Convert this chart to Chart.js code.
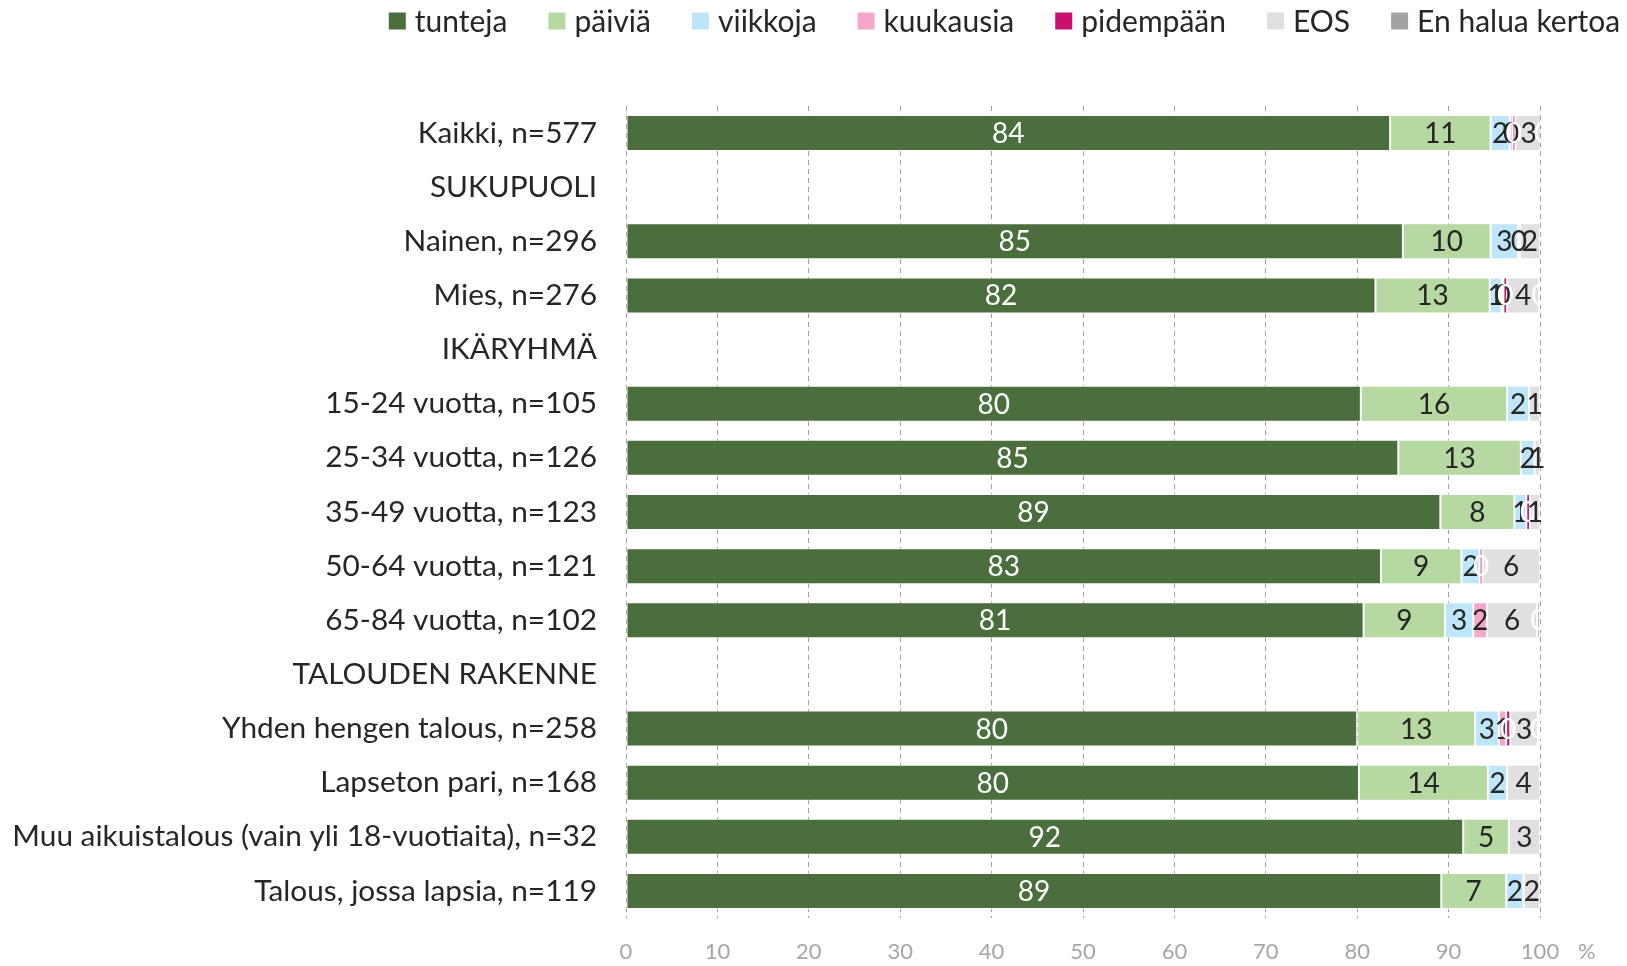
<!DOCTYPE html>
<html>
<head>
<meta charset="utf-8">
<script src="https://cdn.jsdelivr.net/npm/chart.js@4"></script>
<style>
html,body{margin:0;padding:0;background:#fff;}
#wrap{width:1627px;height:966px;position:relative;}
</style>
</head>
<body>
<div id="wrap"><canvas id="c" width="1627" height="966"></canvas></div>
<script>
const categories = [
  "Kaikki, n=577",
  "SUKUPUOLI",
  "Nainen, n=296",
  "Mies, n=276",
  "IKÄRYHMÄ",
  "15-24 vuotta, n=105",
  "25-34 vuotta, n=126",
  "35-49 vuotta, n=123",
  "50-64 vuotta, n=121",
  "65-84 vuotta, n=102",
  "TALOUDEN RAKENNE",
  "Yhden hengen talous, n=258",
  "Lapseton pari, n=168",
  "Muu aikuistalous (vain yli 18-vuotiaita), n=32",
  "Talous, jossa lapsia, n=119"
];
const seriesNames = ["tunteja","päiviä","viikkoja","kuukausia","pidempään","EOS","En halua kertoa"];
const tunteja   = [83.6, null, 85.0, 82.0, null, 80.4, 84.5, 89.1, 82.6, 80.7, null, 80.0, 80.2, 91.6, 89.2];
const paivia    = [11.0, null,  9.6, 12.5, null, 16.0, 13.4,  8.1,  8.8,  8.9, null, 12.9, 14.1,  5.0,  7.1];
const viikkoja  = [ 2.1, null,  3.0,  1.3, null,  2.4,  1.5,  1.3,  2.0,  3.1, null,  2.6,  2.1, null,  1.9];
const kuukausia = [ 0.3, null,  0.2,  0.2, null, null, null, null, null,  1.5, null,  0.8, null, null, null];
const pidempaan = [ 0.3, null, null,  0.4, null, null, null,  0.4,  0.3, null, null, 0.45, null, null, null];
const eos       = [ 2.9, null,  2.2,  3.5, null,  1.2,  0.6,  1.1,  6.3,  5.5, null,  3.0,  3.6,  3.4,  1.8];
const enHalua   = [ 0.1, null, null,  0.1, null, null, null, null, null,  0.3, null,  0.2, null, null, null];
const xTicks = [0,10,20,30,40,50,60,70,80,90,100];
const unitLabel = "%";

const colors = ["#4a6f3d","#b5d9a1","#bde6fa","#f4a7c9","#c8106e","#e0e0e0","#a3a3a3"];
const labelColors = ["#ffffff","#262626","#262626","#262626","#ffffff","#262626","#ffffff"];
const allData = [tunteja, paivia, viikkoja, kuukausia, pidempaan, eos, enHalua];

const FONT = "Lato, 'Open Sans', sans-serif";

const dataLabelPlugin = {
  id: 'segLabels',
  afterDatasetsDraw(chart) {
    const ctx = chart.ctx;
    ctx.save();
    ctx.font = "28px " + FONT;
    ctx.textAlign = 'center';
    ctx.textBaseline = 'middle';
    chart.data.datasets.forEach((ds, i) => {
      const meta = chart.getDatasetMeta(i);
      if (meta.hidden) return;
      meta.data.forEach((el, j) => {
        const v = ds.data[j];
        if (v === null || v === undefined) return;
        const p = el.getProps(['x','base','y'], true);
        ctx.fillStyle = labelColors[i];
        ctx.fillText(String(Math.round(v)), (p.x + p.base) / 2, p.y + 1);
      });
    });
    ctx.restore();
  }
};

const legendPlugin = {
  id: 'customLegend',
  afterDraw(chart) {
    const ctx = chart.ctx;
    ctx.save();
    ctx.font = "30px " + FONT;
    ctx.textBaseline = 'middle';
    ctx.textAlign = 'left';
    const box = 17, gapText = 9, gapItem = 41;
    const widths = seriesNames.map(n => ctx.measureText(n).width);
    let total = 0;
    widths.forEach((w, i) => { total += box + gapText + w + (i < widths.length - 1 ? gapItem : 0); });
    let x = 1004.5 - total / 2;
    const cy = 21;
    seriesNames.forEach((n, i) => {
      ctx.fillStyle = colors[i];
      ctx.fillRect(x, cy - box / 2, box, box);
      ctx.fillStyle = '#262626';
      ctx.fillText(n, x + box + gapText, cy + 1);
      x += box + gapText + widths[i] + gapItem;
    });
    ctx.restore();
  }
};

const unitPlugin = {
  id: 'unitLabel',
  afterDraw(chart) {
    const ctx = chart.ctx;
    const xs = chart.scales.x;
    ctx.save();
    ctx.font = "22px " + FONT;
    ctx.fillStyle = "#a6a6a6";
    ctx.textAlign = 'left';
    ctx.textBaseline = 'middle';
    ctx.fillText(unitLabel, xs.getPixelForValue(100) + 38, chart.chartArea.bottom + 34);
    ctx.restore();
  }
};

new Chart(document.getElementById('c'), {
  type: 'bar',
  data: {
    labels: categories,
    datasets: allData.map((d, i) => ({
      label: seriesNames[i],
      data: d,
      backgroundColor: colors[i],
      borderColor: 'rgba(255,255,255,0.7)',
      borderWidth: 1,
      borderSkipped: false,
      barPercentage: 0.665,
      categoryPercentage: 1.0
    }))
  },
  options: {
    indexAxis: 'y',
    responsive: false,
    animation: false,
    layout: { padding: { left: 0, right: 87, top: 106, bottom: 0 } },
    plugins: {
      legend: { display: false },
      tooltip: { enabled: false }
    },
    scales: {
      x: {
        stacked: true,
        min: 0, max: 100,
        afterBuildTicks(scale) { scale.ticks = xTicks.map(v => ({ value: v })); },
        ticks: {
          font: { family: FONT, size: 22 },
          color: '#a6a6a6',
          padding: 21,
          maxRotation: 0
        },
        grid: {
          color: '#a0a0a0',
          lineWidth: 1,
          drawTicks: false
        },
        border: { display: false, dash: [5, 4] },
        afterFit(scale) { scale.height = 48; }
      },
      y: {
        stacked: true,
        ticks: {
          font: { family: FONT, size: 29.8 },
          color: '#262626',
          padding: 29,
          autoSkip: false
        },
        grid: { display: false, drawTicks: false },
        border: { display: false },
        afterFit(scale) { scale.width = 626; }
      }
    }
  },
  plugins: [dataLabelPlugin, legendPlugin, unitPlugin]
});
</script>
</body>
</html>
